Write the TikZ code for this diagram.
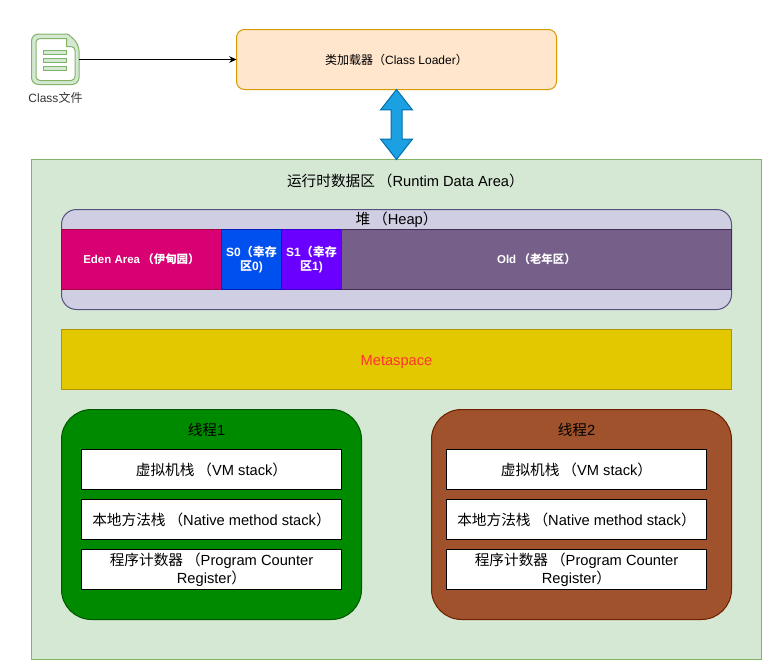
\documentclass[tikz,border=0pt]{standalone}
\usepackage{fontspec}
\setmainfont{Liberation Sans}
\newfontfamily\cjk{Noto Sans CJK SC}
\usetikzlibrary{chains,shapes.arrows,arrows.meta}
\def\px{0.75pt}
\newcommand{\zkh}{\kern.2em{\cjk （}}
\definecolor{loaderfill}{HTML}{FFE6CC}
\definecolor{loaderline}{HTML}{D79B00}
\definecolor{areafill}{HTML}{D5E8D4}
\definecolor{arealine}{HTML}{82B366}
\definecolor{heapfill}{HTML}{D0CEE2}
\definecolor{heapline}{HTML}{56517E}
\definecolor{edenfill}{HTML}{D80073}
\definecolor{edenline}{HTML}{A50040}
\definecolor{szerofill}{HTML}{0050EF}
\definecolor{szeroline}{HTML}{001DBC}
\definecolor{sonefill}{HTML}{6A00FF}
\definecolor{soneline}{HTML}{3700CC}
\definecolor{oldfill}{HTML}{76608A}
\definecolor{oldline}{HTML}{432D57}
\definecolor{metafill}{HTML}{E3C800}
\definecolor{metaline}{HTML}{B09500}
\definecolor{threadafill}{HTML}{008A00}
\definecolor{threadaline}{HTML}{005700}
\definecolor{threadbfill}{HTML}{A0522D}
\definecolor{threadbline}{HTML}{6D1F00}
\definecolor{arrowfill}{HTML}{1BA1E2}
\definecolor{arrowline}{HTML}{006EAF}
\begin{document}
\begin{tikzpicture}[x=0.75pt,y=-0.75pt,>={Stealth[length=5.5pt,width=5pt]},line width=\px,
    box/.style={draw,anchor=north west,inner sep=0pt,outer sep=0pt,align=center},
    bigtxt/.style={font=\fontsize{11}{13.5}\selectfont},
    midtxt/.style={font=\fontsize{9}{11}\selectfont},
    heappart/.style={box,anchor=west,on chain,minimum height=60*\px,text=white},
    stackbox/.style={box,fill=white,draw=black,bigtxt,minimum width=260*\px,minimum height=40*\px},
    stripe/.style={draw=arealine,fill=areafill,line width=0.6*\px}]
    \useasboundingbox (0,0) rectangle (774,671);
    % top row
    \node[inner sep=0pt,outer sep=0pt,minimum width=48*\px,minimum height=50*\px] (classfile) at (55,59.5) {};
    \draw[arealine,fill=areafill,rounded corners=7*\px] (31.5,60) -- (31.5,84.5) -- (79,84.5) -- (79,60) -- (79,44) [sharp corners] -- (68,34) -- (50,34) [rounded corners=7*\px] -- (31.5,34) -- cycle;
    \draw[arealine,fill=white,rounded corners=4*\px] (36,60) -- (36,80.5) -- (75,80.5) -- (75,60) -- (75,46.5) [sharp corners] -- (66.5,46.5) -- (66.5,38.5) -- (50,38.5) [rounded corners=4*\px] -- (36,38.5) -- cycle;
    \draw[stripe] (43.5,50.5) rectangle (66,54.5);
    \draw[stripe] (43.5,58.5) rectangle (66,62.5);
    \draw[stripe] (43.5,66.5) rectangle (66,70.5);
    \node[text=black!80,font=\fontsize{9}{11}\selectfont,inner sep=0pt] (classtxt) at (55.5,98) {Class{\cjk 文件}};
    \node[box,fill=loaderfill,draw=loaderline,rounded corners=8*\px,minimum width=320*\px,minimum height=60*\px,midtxt] (loader) at (236.5,29.5) {{\cjk 类加载器（}Class Loader{\cjk ）}};
    \draw[->] (classfile) -- (loader);
    % runtime area
    \node[box,fill=areafill,draw=arealine,minimum width=730*\px,minimum height=500*\px] (area) at (31.5,159.5) {};
    \node[bigtxt,inner sep=0pt,anchor=west] (areatxt) at (286.5,180.5) {{\cjk 运行时数据区}\zkh Runtim Data Area{\cjk ）}};
    \node[double arrow,double arrow head extend=10.5*\px,double arrow tip angle=76,minimum height=70*\px,minimum width=31*\px,inner sep=5*\px,outer sep=0pt,fill=arrowfill,draw=arrowline,rotate=90] (link) at (396.5,124.5) {};
    % heap
    \node[box,fill=heapfill,draw=heapline,rounded corners=15*\px,minimum width=670*\px,minimum height=100*\px] (heap) at (61.5,209.5) {};
    \node[bigtxt,inner sep=0pt] (heaptxt) at (396.5,220) {{\cjk 堆}\zkh Heap{\cjk ）}};
    \begin{scope}[start chain=going right,node distance=0pt]
        \node[heappart,fill=edenfill,draw=edenline,minimum width=160*\px,font=\bfseries\fontsize{8.6}{10}\selectfont] (eden) at (61.5,259.5) {Eden Area\zkh{\cjk 伊甸园）}};
        \node[heappart,fill=szerofill,draw=szeroline,minimum width=60*\px,font=\bfseries\fontsize{9}{11}\selectfont] (szero) {S0{\cjk （幸存}\\{\cjk 区}0)};
        \node[heappart,fill=sonefill,draw=soneline,minimum width=60*\px,font=\bfseries\fontsize{9}{11}\selectfont] (sone) {S1{\cjk （幸存}\\{\cjk 区}1)};
        \node[heappart,fill=oldfill,draw=oldline,minimum width=390*\px,font=\bfseries\fontsize{8.6}{10}\selectfont] (old) {Old\zkh{\cjk 老年区）}};
    \end{scope}
    \node[box,fill=metafill,draw=metaline,minimum width=670*\px,minimum height=60*\px,text={rgb,255:red,255;green,51;blue,51},bigtxt,text height=8.25pt,text depth=0pt] (meta) at (61.5,329.5) {Metaspace};
    % thread 1
    \node[box,fill=threadafill,draw=threadaline,rounded corners=30*\px,minimum width=300*\px,minimum height=210*\px] (threada) at (61.5,409.5) {};
    \node[bigtxt,inner sep=0pt] (threadatxt) at (206.5,429.5) {{\cjk 线程}1};
    \node[stackbox] (vma) at (81.5,449.5) {{\cjk 虚拟机栈}\zkh VM stack{\cjk ）}};
    \node[stackbox] (nativea) at (81.5,499.5) {{\cjk 本地方法栈}\zkh Native method stack{\cjk ）}};
    \node[stackbox] (pca) at (81.5,549.5) {{\cjk 程序计数器}\zkh Program Counter\\Register{\cjk ）}};
    % thread 2
    \node[box,fill=threadbfill,draw=threadbline,rounded corners=30*\px,minimum width=300*\px,minimum height=210*\px] (threadb) at (431.5,409.5) {};
    \node[bigtxt,inner sep=0pt] (threadbtxt) at (576.5,429.5) {{\cjk 线程}2};
    \node[stackbox] (vmb) at (446.5,449.5) {{\cjk 虚拟机栈}\zkh VM stack{\cjk ）}};
    \node[stackbox] (nativeb) at (446.5,499.5) {{\cjk 本地方法栈}\zkh Native method stack{\cjk ）}};
    \node[stackbox] (pcb) at (446.5,549.5) {{\cjk 程序计数器}\zkh Program Counter\\Register{\cjk ）}};
\end{tikzpicture}
\end{document}
